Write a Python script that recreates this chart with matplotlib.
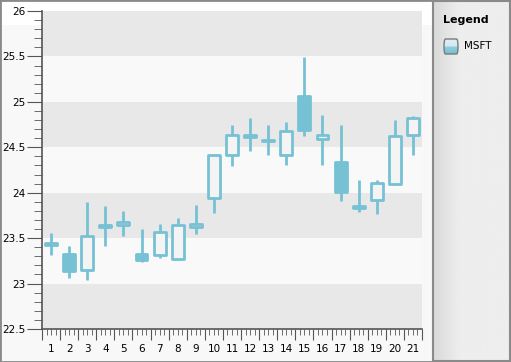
import numpy as npy
import matplotlib.pyplot as plt
from matplotlib.patches import Rectangle, FancyBboxPatch
from matplotlib.colors import LinearSegmentedColormap

#  candle data
days = list(range(1, 22))
opens = [23.45, 23.32, 23.15, 23.64, 23.64, 23.32, 23.31, 23.27, 23.62, 23.94, 24.42,
         24.63, 24.58, 24.42, 25.06, 24.59, 24.34, 23.85, 23.92, 24.10, 24.63]
closes = [23.43, 23.14, 23.52, 23.62, 23.68, 23.26, 23.57, 23.64, 23.66, 24.41, 24.63,
          24.61, 24.57, 24.68, 24.69, 24.64, 24.01, 23.83, 24.11, 24.62, 24.82]
highs = [23.56, 23.41, 23.90, 23.85, 23.80, 23.60, 23.66, 23.72, 23.87, 24.42, 24.74,
         24.82, 24.75, 24.78, 25.49, 24.85, 24.74, 24.14, 24.14, 24.80, 24.84]
lows = [23.31, 23.06, 23.04, 23.41, 23.52, 23.24, 23.28, 23.27, 23.55, 23.78, 24.29,
        24.46, 24.42, 24.30, 24.62, 24.30, 23.91, 23.79, 23.77, 24.09, 24.41]
series_name = "MSFT"

#  colours
candle_color = "#76c1d4"
hollow_color = "#f4f4f4"
axis_color = "#555555"

#  basic settings
W, H = 511, 362
plt.rcParams["font.family"] = "DejaVu Sans"
fig = plt.figure(figsize=(W / 100, H / 100), dpi=100, facecolor="#f8f8f8")

#  white strip at the top of the chart area
fig.patches.append(Rectangle((0, 1 - 25 / H), 432 / W, 25 / H, transform=fig.transFigure,
                             facecolor="white", edgecolor="none", zorder=-5))

ax = fig.add_axes([42 / W, 33 / H, 380 / W, 318 / H])
ax.set_facecolor("#f9f9f9")
ax.set_xlim(0.5, 21.5)
ax.set_ylim(22.5, 26)

#  alternating bands
for k, lo in enumerate(npy.arange(22.5, 26, 0.5)):
    if k % 2 == 0:
        ax.axhspan(lo, lo + 0.5, color="#e8e8e8", lw=0, zorder=0)

#  candles
body_w = 0.66
for d, o, c, h, l in zip(days, opens, closes, highs, lows):
    ax.plot([d, d], [l, h], color=candle_color, lw=2, solid_capstyle="butt", zorder=2)
    face = candle_color if c < o else hollow_color
    ax.add_patch(Rectangle((d - body_w / 2, min(o, c)), body_w, abs(c - o),
                           facecolor=face, edgecolor=candle_color, lw=2, zorder=3,
                           joinstyle="round"))

#  axes and ticks
for s in ["top", "right"]:
    ax.spines[s].set_visible(False)
for s in ["left", "bottom"]:
    ax.spines[s].set_color(axis_color)
    ax.spines[s].set_linewidth(1.2)

ax.set_yticks(npy.arange(22.5, 26.01, 0.5))
ax.set_yticklabels(["22.5", "23", "23.5", "24", "24.5", "25", "25.5", "26"])
ax.set_yticks(npy.arange(22.5, 26.01, 0.1), minor=True)
ax.tick_params(axis="y", which="major", length=11, color=axis_color, labelsize=7.5, pad=1)
ax.tick_params(axis="y", which="minor", length=6, color=axis_color)

minor_x = npy.arange(0.5, 21.51, 0.25)
ax.set_xticks(npy.arange(0.5, 21.51, 1.0))
ax.set_xticklabels([])
ax.set_xticks(minor_x, minor=True)
ax.set_xticklabels([str(int(v)) if abs(v - round(v)) < 1e-6 else "" for v in minor_x], minor=True)
ax.tick_params(axis="x", which="major", length=8, color=axis_color)
ax.tick_params(axis="x", which="minor", length=4, color=axis_color, labelsize=7.5, pad=7)

#  legend panel on the right
lp = fig.add_axes([433 / W, 1 / H, 77 / W, 360 / H])
grad = npy.minimum(npy.linspace(0, 1, 100) / 0.35, 1.0)
lp.imshow(grad[None, :], aspect="auto",
          cmap=LinearSegmentedColormap.from_list("g", ["#d9d9d9", "#eeeeee"]),
          extent=[0, 1, 0, 1])
lp.set_xlim(0, 1)
lp.set_ylim(0, 1)
lp.set_xticks([])
lp.set_yticks([])
for s in lp.spines.values():
    s.set_color("#8a8a8a")
    s.set_linewidth(1.5)

fig.text(443 / W, 1 - 20 / H, "Legend", fontsize=8, fontweight="bold", va="center", ha="left")
#  legend swatch: light top half, teal bottom half
swatch = npy.concatenate([npy.linspace(0, 0.15, 10), npy.linspace(0.75, 1, 10)])
lp.imshow(swatch[:, None], aspect="auto", vmin=0, vmax=1,
          cmap=LinearSegmentedColormap.from_list("b", ["#e2eff4", "#76c1d4"]),
          extent=[(444 - 433) / 77, (458 - 433) / 77, 1 - 53 / 360, 1 - 38 / 360])
lp.add_patch(FancyBboxPatch(((444 - 433) / 77, 1 - 53 / 360), 14 / 77, 15 / 360,
                            boxstyle="round,pad=0,rounding_size=0.02", facecolor="none",
                            edgecolor="#7a7a7a", lw=1))
fig.text(464 / W, 1 - 46 / H, series_name, fontsize=7.5, va="center", ha="left")

#  outer border
fig.patches.append(Rectangle((0, 0), 1, 1, transform=fig.transFigure, facecolor="none",
                             edgecolor="#8a8a8a", lw=2, zorder=10))

fig.savefig("out.png", dpi=100, facecolor=fig.get_facecolor())
